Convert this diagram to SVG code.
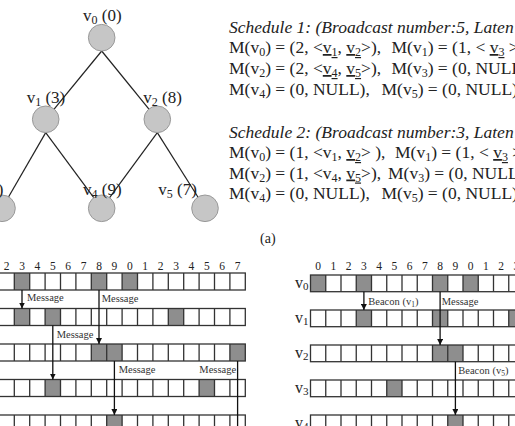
<svg xmlns="http://www.w3.org/2000/svg" width="515" height="426" viewBox="0 0 515 426">
<defs>
<style>
.t{font-family:"Liberation Serif","Times New Roman",serif;fill:#222}
.m{font-size:17.5px}
.m .s{font-size:12px}
.i{font-style:italic}
.s{font-size:11px}
.u{text-decoration:underline}
.nl{font-size:17px}
.nl .s{font-size:12px}
.dg{font-size:11.5px;text-anchor:middle}
.lb{font-size:10.5px;fill:#333}
.rl{font-size:16px}
.node{fill:#c6c6c6;stroke:#999;stroke-width:1}
.edge{stroke:#222;stroke-width:1.2;fill:none}
.bg{fill:#fff}
.on{fill:#8e8e8e}
.grid{fill:none;stroke:#333;stroke-width:1.3}
.arr{stroke:#111;stroke-width:1.3;fill:none}
</style>
<marker id="ah" viewBox="0 0 10 10" refX="10" refY="5" markerWidth="6" markerHeight="6" markerUnits="userSpaceOnUse" orient="auto">
<path d="M0,0 L10,5 L0,10 z" fill="#111"/>
</marker>
</defs>
<rect width="515" height="426" fill="#fff"/>

<!-- tree connectors -->
<g id="connectors">
<line class="edge" x1="101.7" y1="51" x2="45.7" y2="119.3"/>
<line class="edge" x1="101.7" y1="51" x2="157.3" y2="119.3"/>
<line class="edge" x1="45.7" y1="132.6" x2="2" y2="208.3"/>
<line class="edge" x1="45.7" y1="132.6" x2="101.7" y2="208.3"/>
<line class="edge" x1="157.3" y1="132.6" x2="101.7" y2="208.3"/>
<line class="edge" x1="157.3" y1="132.6" x2="205" y2="208.3"/>
</g>

<g id="v0"><circle class="node" cx="101.7" cy="37.7" r="13.3"/>
<text class="t nl" x="83" y="21">v<tspan class="s" dy="3">0</tspan><tspan dy="-3"> (0)</tspan></text></g>
<g id="v1"><circle class="node" cx="45.7" cy="119.3" r="13.3"/>
<text class="t nl" x="26.7" y="103">v<tspan class="s" dy="3">1</tspan><tspan dy="-3"> (3)</tspan></text></g>
<g id="v2"><circle class="node" cx="157.3" cy="119.3" r="13.3"/>
<text class="t nl" x="143.3" y="103">v<tspan class="s" dy="3">2</tspan><tspan dy="-3"> (8)</tspan></text></g>
<g id="v3"><circle class="node" cx="2" cy="208.3" r="13.3"/>
<text class="t nl" x="3.5" y="195" text-anchor="end">v<tspan class="s" dy="3">3</tspan><tspan dy="-3"> (5)</tspan></text></g>
<g id="v4"><circle class="node" cx="101.7" cy="208.3" r="13.3"/>
<text class="t nl" x="83" y="195">v<tspan class="s" dy="3">4</tspan><tspan dy="-3"> (9)</tspan></text></g>
<g id="v5"><circle class="node" cx="205" cy="208.3" r="13.3"/>
<text class="t nl" x="158.3" y="195">v<tspan class="s" dy="3">5</tspan><tspan dy="-3"> (7)</tspan></text></g>

<!-- schedules -->
<g id="schedules">
<text class="t m i" x="229" y="33">Schedule 1: (Broadcast number:5, Laten</text>
<text class="t m" x="229" y="53">M(v<tspan class="s" dy="3">0</tspan><tspan dy="-3">) = (2, &lt;</tspan><tspan class="u">v</tspan><tspan class="s u" dy="3">1</tspan><tspan dy="-3">, </tspan><tspan class="u">v</tspan><tspan class="s u" dy="3">2</tspan><tspan dy="-3">&gt;),</tspan></text>
<text class="t m" x="391.5" y="53">M(v<tspan class="s" dy="3">1</tspan><tspan dy="-3">) = (1, &lt; </tspan><tspan class="u">v</tspan><tspan class="s u" dy="3">3</tspan><tspan dy="-3"> &gt;</tspan></text>
<text class="t m" x="229" y="74">M(v<tspan class="s" dy="3">2</tspan><tspan dy="-3">) = (2, &lt;</tspan><tspan class="u">v</tspan><tspan class="s u" dy="3">4</tspan><tspan dy="-3">, </tspan><tspan class="u">v</tspan><tspan class="s u" dy="3">5</tspan><tspan dy="-3">&gt;),</tspan></text>
<text class="t m" x="391.5" y="74">M(v<tspan class="s" dy="3">3</tspan><tspan dy="-3">) = (0, NULL</tspan></text>
<text class="t m" x="229" y="95">M(v<tspan class="s" dy="3">4</tspan><tspan dy="-3">) = (0, NULL),</tspan></text>
<text class="t m" x="381.5" y="95">M(v<tspan class="s" dy="3">5</tspan><tspan dy="-3">) = (0, NULL)</tspan></text>

<text class="t m i" x="229" y="138">Schedule 2: (Broadcast number:3, Laten</text>
<text class="t m" x="229" y="158">M(v<tspan class="s" dy="3">0</tspan><tspan dy="-3">) = (1, &lt;v</tspan><tspan class="s" dy="3">1</tspan><tspan dy="-3">, </tspan><tspan class="u">v</tspan><tspan class="s u" dy="3">2</tspan><tspan dy="-3">&gt; ),</tspan></text>
<text class="t m" x="395" y="158">M(v<tspan class="s" dy="3">1</tspan><tspan dy="-3">) = (1, &lt; </tspan><tspan class="u">v</tspan><tspan class="s u" dy="3">3</tspan><tspan dy="-3"> &gt;</tspan></text>
<text class="t m" x="229" y="178.5">M(v<tspan class="s" dy="3">2</tspan><tspan dy="-3">) = (1, &lt;v</tspan><tspan class="s" dy="3">4</tspan><tspan dy="-3">, </tspan><tspan class="u">v</tspan><tspan class="s u" dy="3">5</tspan><tspan dy="-3">&gt;),</tspan></text>
<text class="t m" x="388" y="178.5">M(v<tspan class="s" dy="3">3</tspan><tspan dy="-3">) = (0, NULL</tspan></text>
<text class="t m" x="229" y="199">M(v<tspan class="s" dy="3">4</tspan><tspan dy="-3">) = (0, NULL),</tspan></text>
<text class="t m" x="381.5" y="199">M(v<tspan class="s" dy="3">5</tspan><tspan dy="-3">) = (0, NULL)</tspan></text>
<text class="t" font-size="14" x="260" y="243">(a)</text>
</g>

<!-- left timeline -->
<g id="timeline-left">
<g class="t dg">
<text x="6.6" y="270">2</text><text x="22" y="270">3</text><text x="37.4" y="270">4</text><text x="52.8" y="270">5</text>
<text x="68.2" y="270">6</text><text x="83.6" y="270">7</text><text x="99" y="270">8</text><text x="114.4" y="270">9</text>
<text x="129.8" y="270">0</text><text x="145.2" y="270">1</text><text x="160.6" y="270">2</text><text x="176" y="270">3</text>
<text x="191.4" y="270">4</text><text x="206.8" y="270">5</text><text x="222.2" y="270">6</text><text x="237.6" y="270">7</text>
</g>
<g id="L-row0">
<rect class="bg" x="-1.1" y="273" width="246.4" height="17"/>
<rect class="on" x="14.3" y="273" width="15.4" height="17"/><rect class="on" x="91.3" y="273" width="15.4" height="17"/><rect class="on" x="122.1" y="273" width="15.4" height="17"/>
</g>
<g id="L-row1">
<rect class="bg" x="-1.1" y="308.5" width="246.4" height="17"/>
<rect class="on" x="14.3" y="308.5" width="15.4" height="17"/><rect class="on" x="45.1" y="308.5" width="15.4" height="17"/><rect class="on" x="168.3" y="308.5" width="15.4" height="17"/>
</g>
<g id="L-row2">
<rect class="bg" x="-1.1" y="344" width="246.4" height="17"/>
<rect class="on" x="91.3" y="344" width="15.4" height="17"/><rect class="on" x="106.7" y="344" width="15.4" height="17"/><rect class="on" x="229.9" y="344" width="15.4" height="17"/>
</g>
<g id="L-row3">
<rect class="bg" x="-1.1" y="379.5" width="246.4" height="17"/>
<rect class="on" x="45.1" y="379.5" width="15.4" height="17"/><rect class="on" x="199.1" y="379.5" width="15.4" height="17"/>
</g>
<g id="L-row4">
<rect class="bg" x="-1.1" y="415" width="246.4" height="17"/>
<rect class="on" x="106.7" y="415" width="15.4" height="17"/>
</g>
<path class="grid" d="M14.3,273v17M29.7,273v17M45.1,273v17M60.5,273v17M75.9,273v17M91.3,273v17M106.7,273v17M122.1,273v17M137.5,273v17M152.9,273v17M168.3,273v17M183.7,273v17M199.1,273v17M214.5,273v17M229.9,273v17
M14.3,308.5v17M29.7,308.5v17M45.1,308.5v17M60.5,308.5v17M75.9,308.5v17M91.3,308.5v17M106.7,308.5v17M122.1,308.5v17M137.5,308.5v17M152.9,308.5v17M168.3,308.5v17M183.7,308.5v17M199.1,308.5v17M214.5,308.5v17M229.9,308.5v17
M14.3,344v17M29.7,344v17M45.1,344v17M60.5,344v17M75.9,344v17M91.3,344v17M106.7,344v17M122.1,344v17M137.5,344v17M152.9,344v17M168.3,344v17M183.7,344v17M199.1,344v17M214.5,344v17M229.9,344v17
M14.3,379.5v17M29.7,379.5v17M45.1,379.5v17M60.5,379.5v17M75.9,379.5v17M91.3,379.5v17M106.7,379.5v17M122.1,379.5v17M137.5,379.5v17M152.9,379.5v17M168.3,379.5v17M183.7,379.5v17M199.1,379.5v17M214.5,379.5v17M229.9,379.5v17
M14.3,415v17M29.7,415v17M45.1,415v17M60.5,415v17M75.9,415v17M91.3,415v17M106.7,415v17M122.1,415v17M137.5,415v17M152.9,415v17M168.3,415v17M183.7,415v17M199.1,415v17M214.5,415v17M229.9,415v17"/>
<rect class="grid" x="-1.1" y="273" width="246.4" height="17"/>
<rect class="grid" x="-1.1" y="308.5" width="246.4" height="17"/>
<rect class="grid" x="-1.1" y="344" width="246.4" height="17"/>
<rect class="grid" x="-1.1" y="379.5" width="246.4" height="17"/>
<rect class="grid" x="-1.1" y="415" width="246.4" height="17"/>
</g>

<!-- right timeline -->
<g id="timeline-right">
<g class="t dg">
<text x="318.1" y="270">0</text><text x="333.4" y="270">1</text><text x="348.6" y="270">2</text><text x="363.9" y="270">3</text>
<text x="379.1" y="270">4</text><text x="394.4" y="270">5</text><text x="409.6" y="270">6</text><text x="424.9" y="270">7</text>
<text x="440.1" y="270">8</text><text x="455.4" y="270">9</text><text x="470.6" y="270">0</text><text x="485.9" y="270">1</text>
<text x="501.1" y="270">2</text><text x="516.4" y="270">3</text>
</g>
<g class="t rl">
<text x="295" y="288">v<tspan class="s" dy="2">0</tspan></text>
<text x="295" y="323">v<tspan class="s" dy="2">1</tspan></text>
<text x="295" y="358">v<tspan class="s" dy="2">2</tspan></text>
<text x="295" y="393">v<tspan class="s" dy="2">3</tspan></text>
<text x="295" y="428">v<tspan class="s" dy="2">4</tspan></text>
</g>
<g id="R-row0">
<rect class="bg" x="310.5" y="275" width="213.5" height="16.7"/>
<rect class="on" x="310.5" y="275" width="15.25" height="16.7"/><rect class="on" x="356.25" y="275" width="15.25" height="16.7"/><rect class="on" x="432.5" y="275" width="15.25" height="16.7"/><rect class="on" x="463" y="275" width="15.25" height="16.7"/>
</g>
<g id="R-row1">
<rect class="bg" x="310.5" y="310" width="213.5" height="16.7"/>
<rect class="on" x="356.25" y="310" width="15.25" height="16.7"/><rect class="on" x="432.5" y="310" width="15.25" height="16.7"/><rect class="on" x="508.75" y="310" width="15.25" height="16.7"/>
</g>
<g id="R-row2">
<rect class="bg" x="310.5" y="345" width="213.5" height="16.7"/>
<rect class="on" x="432.5" y="345" width="15.25" height="16.7"/><rect class="on" x="447.75" y="345" width="15.25" height="16.7"/>
</g>
<g id="R-row3">
<rect class="bg" x="310.5" y="380" width="213.5" height="16.7"/>
<rect class="on" x="386.75" y="380" width="15.25" height="16.7"/>
</g>
<g id="R-row4">
<rect class="bg" x="310.5" y="415" width="213.5" height="16.7"/>
<rect class="on" x="447.75" y="415" width="15.25" height="16.7"/>
</g>
<path class="grid" d="M325.75,275v16.7M341,275v16.7M356.25,275v16.7M371.5,275v16.7M386.75,275v16.7M402,275v16.7M417.25,275v16.7M432.5,275v16.7M447.75,275v16.7M463,275v16.7M478.25,275v16.7M493.5,275v16.7M508.75,275v16.7
M325.75,310v16.7M341,310v16.7M356.25,310v16.7M371.5,310v16.7M386.75,310v16.7M402,310v16.7M417.25,310v16.7M432.5,310v16.7M447.75,310v16.7M463,310v16.7M478.25,310v16.7M493.5,310v16.7M508.75,310v16.7
M325.75,345v16.7M341,345v16.7M356.25,345v16.7M371.5,345v16.7M386.75,345v16.7M402,345v16.7M417.25,345v16.7M432.5,345v16.7M447.75,345v16.7M463,345v16.7M478.25,345v16.7M493.5,345v16.7M508.75,345v16.7
M325.75,380v16.7M341,380v16.7M356.25,380v16.7M371.5,380v16.7M386.75,380v16.7M402,380v16.7M417.25,380v16.7M432.5,380v16.7M447.75,380v16.7M463,380v16.7M478.25,380v16.7M493.5,380v16.7M508.75,380v16.7
M325.75,415v16.7M341,415v16.7M356.25,415v16.7M371.5,415v16.7M386.75,415v16.7M402,415v16.7M417.25,415v16.7M432.5,415v16.7M447.75,415v16.7M463,415v16.7M478.25,415v16.7M493.5,415v16.7M508.75,415v16.7"/>
<rect class="grid" x="310.5" y="275" width="213.5" height="16.7"/>
<rect class="grid" x="310.5" y="310" width="213.5" height="16.7"/>
<rect class="grid" x="310.5" y="345" width="213.5" height="16.7"/>
<rect class="grid" x="310.5" y="380" width="213.5" height="16.7"/>
<rect class="grid" x="310.5" y="415" width="213.5" height="16.7"/>
</g>

<!-- timeline arrows -->
<g id="timeline-connectors">
<line class="arr" x1="22" y1="290" x2="22" y2="308.5" marker-end="url(#ah)"/>
<line class="arr" x1="99" y1="290" x2="99" y2="344" marker-end="url(#ah)"/>
<line class="arr" x1="52.8" y1="325.5" x2="52.8" y2="379.5" marker-end="url(#ah)"/>
<line class="arr" x1="114.4" y1="361" x2="114.4" y2="415" marker-end="url(#ah)"/>
<line class="arr" x1="237.6" y1="361" x2="237.6" y2="426"/>
<line class="arr" x1="363.9" y1="291.7" x2="363.9" y2="310" marker-end="url(#ah)"/>
<line class="arr" x1="440.1" y1="291.7" x2="440.1" y2="345" marker-end="url(#ah)"/>
<line class="arr" x1="455.4" y1="361.7" x2="455.4" y2="415" marker-end="url(#ah)"/>
</g>
<g id="timeline-labels" class="t lb">
<text x="27" y="301">Message</text>
<text x="101.7" y="302">Message</text>
<text x="56.7" y="338">Message</text>
<text x="118.7" y="373">Message</text>
<text x="199.3" y="373">Message</text>
<text x="368.3" y="305">Beacon (v<tspan font-size="7.5" dy="2">1</tspan><tspan dy="-2">)</tspan></text>
<text x="441.7" y="305">Message</text>
<text x="458.3" y="374">Beacon (v<tspan font-size="7.5" dy="2">5</tspan><tspan dy="-2">)</tspan></text>
</g>
</svg>
